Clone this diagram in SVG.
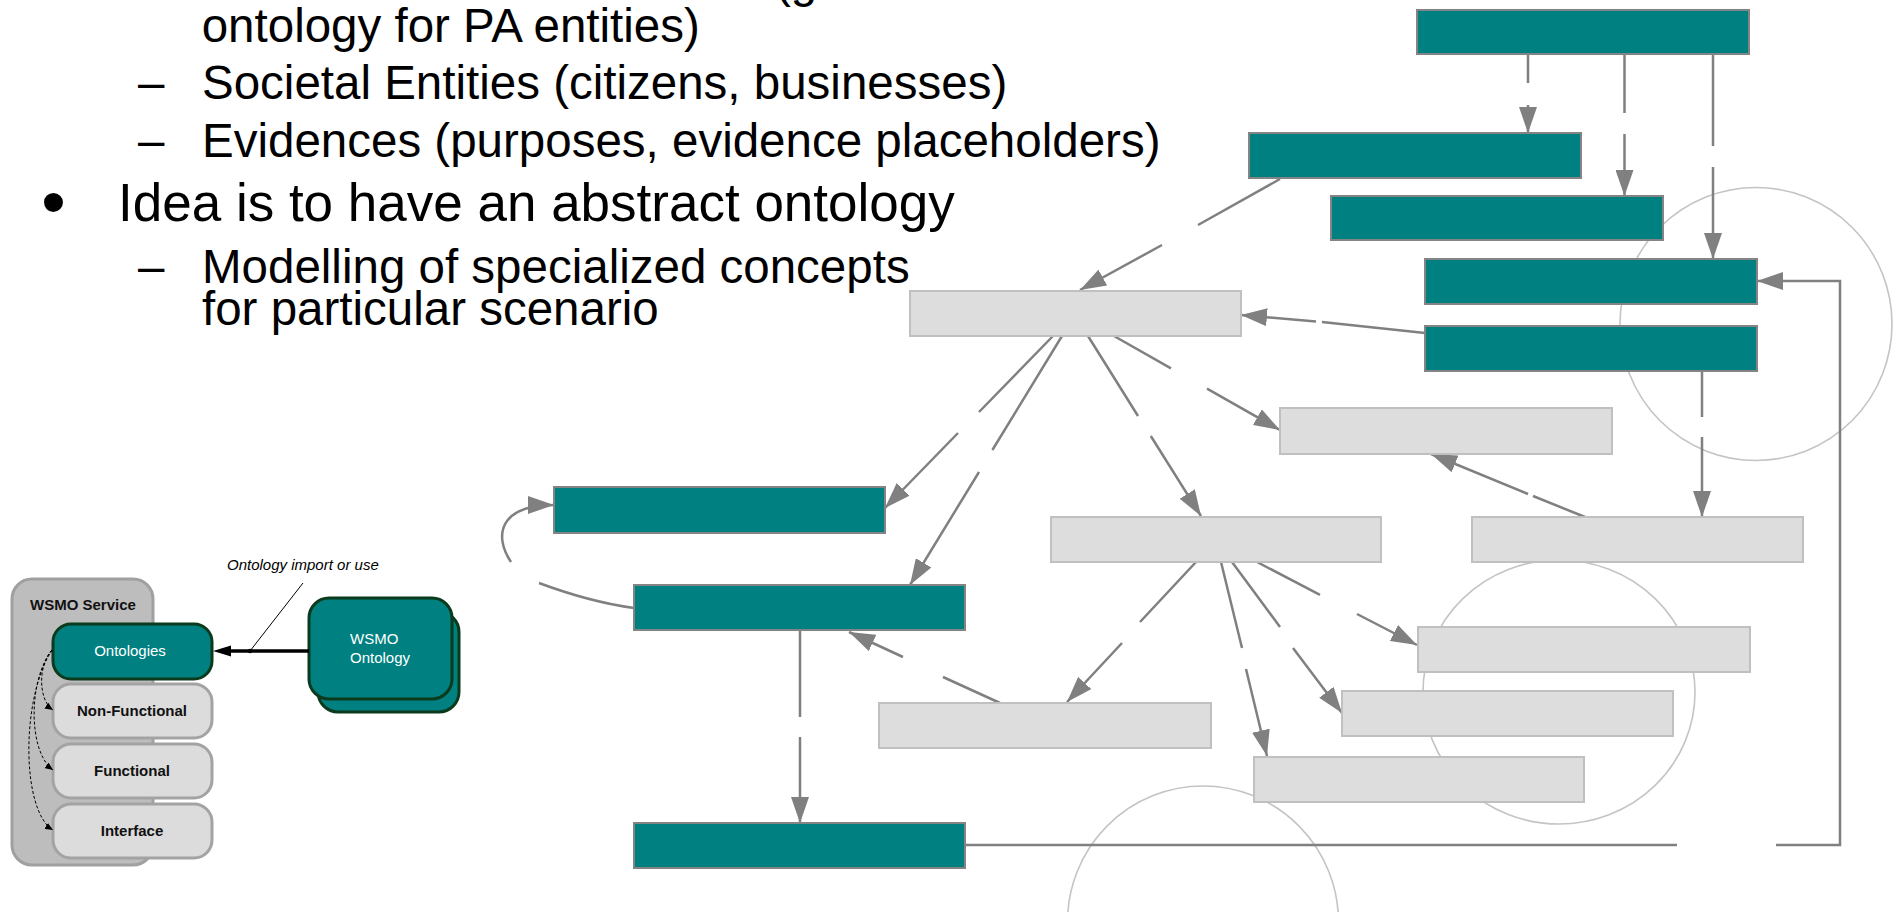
<svg xmlns="http://www.w3.org/2000/svg" width="1894" height="912" viewBox="0 0 1894 912">
  <style>
    .txt { font-family: "Liberation Sans", Arial, sans-serif; fill: #000; }
    .l1 { font-size: 53px; }
    .l2 { font-size: 47.5px; }
    .teal { fill: #008080; stroke: #848484; stroke-width: 2; }
    .grey { fill: #dddddd; stroke: #c0c0c0; stroke-width: 2; }
    .ring { fill: none; stroke: #c4c4c4; stroke-width: 1.6; }
    .conn { fill: none; stroke: #808080; stroke-width: 2.5; marker-end: url(#ah); }
    .svc { fill: #bdbdbd; stroke: #a0a0a0; stroke-width: 3; }
    .part { fill: #dcdcdc; stroke: #a3a3a3; stroke-width: 3; }
    .ont { fill: #008080; stroke: #0b3a1c; stroke-width: 3; }
    .small { font-family: "Liberation Sans", Arial, sans-serif; font-size: 15px; }
    .bold { font-weight: bold; fill: #111; }
    .white { fill: #ffffff; }
    .dash { fill: none; stroke: #000; stroke-width: 1; stroke-dasharray: 3 2; marker-end: url(#sa); }
  </style>
  <defs>
    <marker id="ah" markerUnits="userSpaceOnUse" markerWidth="26" markerHeight="18" refX="26" refY="9" orient="auto">
      <path d="M0,0 L26,9 L0,18 z" fill="#808080"/>
    </marker>
    <marker id="sa" markerUnits="userSpaceOnUse" markerWidth="8" markerHeight="7" refX="8" refY="3.5" orient="auto">
      <path d="M0,0 L8,3.5 L0,7 z" fill="#000"/>
    </marker>
  </defs>

  <!-- bullet text -->
  <g id="bullets" class="txt">
    <text class="l2" x="775" y="-3">(g</text>
    <text class="l2" x="201.7" y="42">ontology for PA entities)</text>
    <text class="l2" x="138" y="99">–</text>
    <text class="l2" x="202" y="99">Societal Entities (citizens, businesses)</text>
    <text class="l2" x="138" y="157">–</text>
    <text class="l2" x="202" y="157">Evidences (purposes, evidence placeholders)</text>
    <text x="53.5" y="226" font-size="70" text-anchor="middle">•</text>
    <text class="l1" x="118" y="221">Idea is to have an abstract ontology</text>
    <text class="l2" x="138" y="283">–</text>
    <text class="l2"><tspan x="202" y="283">Modelling of specialized concepts</tspan><tspan x="202" y="325">for particular scenario</tspan></text>
  </g>

  <!-- background rings -->
  <g id="rings">
    <ellipse class="ring" cx="1756" cy="324" rx="136" ry="136.5"/>
    <ellipse class="ring" cx="1559" cy="692" rx="136" ry="132"/>
    <ellipse class="ring" cx="1203" cy="922" rx="135.5" ry="136"/>
  </g>

  <!-- connectors -->
  <g id="connectors">
    <path class="conn" d="M1528,54 V83 M1528,105 V133"/>
    <path class="conn" d="M1624.5,54 V113 M1624.5,134 V196"/>
    <path class="conn" d="M1713,54 V146 M1713,167 V259"/>
    <path class="conn" d="M1280,179 L1198,225 M1162,245 L1080,290"/>
    <path class="conn" d="M1425,333 L1322,322 M1316,321.4 L1241,315"/>
    <path class="conn" d="M965,845 H1677 M1776,845 H1840 V281 H1757"/>
    <path class="conn" d="M1702,371 V417 M1702,437 V517"/>
    <path class="conn" d="M1585,517 L1533,496 M1528,494 L1431,454"/>
    <path class="conn" d="M1053,336 L979,412 M958,433 L885,508"/>
    <path class="conn" d="M1062,336 L992.4,450 M979,472 L910,585"/>
    <path class="conn" d="M1088,336 L1138,416 M1150.8,436 L1201,516"/>
    <path class="conn" d="M1114,336 L1171,368.3 M1207,388.6 L1280,430"/>
    <path class="conn" d="M1196,562 L1140,622 M1122,643 L1067,702"/>
    <path class="conn" d="M1221,562 L1242,648 M1246,669 L1267,756"/>
    <path class="conn" d="M1232,562 L1280,627 M1293,648 L1342,713"/>
    <path class="conn" d="M1257,562 L1320,594.8 M1357,614 L1417,645"/>
    <path class="conn" d="M1000,703 L943,677 M903,657 L849,632"/>
    <path class="conn" d="M800,630 V717 M800,737 V823"/>
    <path class="conn" d="M634,608 Q590,602 539,583 M511,562 C493,535 500,505 554,505"/>
  </g>

  <!-- graph nodes -->
  <g id="n-top"><rect class="teal" x="1417" y="10" width="332" height="44"/></g>
  <g id="n-t2"><rect class="teal" x="1249" y="133" width="332" height="45"/></g>
  <g id="n-t3"><rect class="teal" x="1331" y="196" width="332" height="44"/></g>
  <g id="n-t4"><rect class="teal" x="1425" y="259" width="332" height="45"/></g>
  <g id="n-t5"><rect class="teal" x="1425" y="326" width="332" height="45"/></g>
  <g id="n-g1"><rect class="grey" x="910" y="291" width="331" height="45"/></g>
  <g id="n-g4"><rect class="grey" x="1280" y="408" width="332" height="46"/></g>
  <g id="n-ta"><rect class="teal" x="554" y="487" width="331" height="46"/></g>
  <g id="n-g2"><rect class="grey" x="1051" y="517" width="330" height="45"/></g>
  <g id="n-gr"><rect class="grey" x="1472" y="517" width="331" height="45"/></g>
  <g id="n-tb"><rect class="teal" x="634" y="585" width="331" height="45"/></g>
  <g id="n-g5"><rect class="grey" x="1418" y="627" width="332" height="45"/></g>
  <g id="n-g6"><rect class="grey" x="1342" y="691" width="331" height="45"/></g>
  <g id="n-g3"><rect class="grey" x="879" y="703" width="332" height="45"/></g>
  <g id="n-g7"><rect class="grey" x="1254" y="757" width="330" height="45"/></g>
  <g id="n-tc"><rect class="teal" x="634" y="823" width="331" height="45"/></g>

  <!-- WSMO service model -->
  <g id="wsmo-service">
    <rect class="svc" x="12" y="579" width="141" height="286" rx="20"/>
    <text class="small bold" x="30" y="610">WSMO Service</text>
  </g>
  <g id="wsmo-ontologies">
    <rect class="ont" x="53" y="624" width="159" height="55" rx="18"/>
    <text class="small white" x="130" y="656" text-anchor="middle">Ontologies</text>
  </g>
  <g id="wsmo-nonfunctional">
    <rect class="part" x="53" y="684" width="159" height="54" rx="18"/>
    <text class="small bold" x="132" y="716" text-anchor="middle">Non-Functional</text>
  </g>
  <g id="wsmo-functional">
    <rect class="part" x="53" y="744" width="159" height="54" rx="18"/>
    <text class="small bold" x="132" y="776" text-anchor="middle">Functional</text>
  </g>
  <g id="wsmo-interface">
    <rect class="part" x="53" y="804" width="159" height="54" rx="18"/>
    <text class="small bold" x="132" y="836" text-anchor="middle">Interface</text>
  </g>
  <g id="wsmo-ontology">
    <rect class="ont" x="318" y="612" width="141" height="100" rx="20"/>
    <rect class="ont" x="309" y="598" width="143" height="101" rx="20"/>
    <text class="small white" x="350" y="644">WSMO</text>
    <text class="small white" x="350" y="663">Ontology</text>
  </g>
  <g id="wsmo-links">
    <path class="dash" d="M52,650 C38,665 38,700 53,710"/>
    <path class="dash" d="M52,650 C28,680 28,752 53,770"/>
    <path class="dash" d="M52,650 C20,700 22,812 53,830"/>
    <line x1="309" y1="651" x2="229" y2="651" stroke="#000" stroke-width="3.5"/>
    <path d="M213,651 L231,645.5 L231,656.5 z" fill="#000"/>
    <circle cx="250" cy="651" r="2.2" fill="#000"/>
    <line x1="250" y1="651" x2="303" y2="583" stroke="#000" stroke-width="1"/>
    <text class="small" x="227" y="570" font-style="italic" fill="#000">Ontology import or use</text>
  </g>
</svg>
